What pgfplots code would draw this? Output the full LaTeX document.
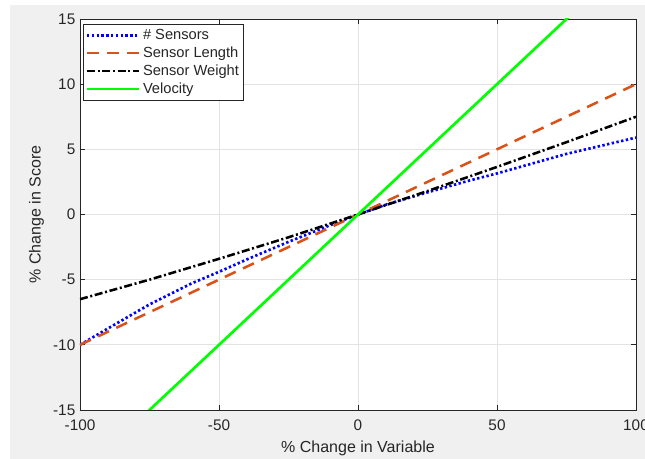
\documentclass[border=0pt]{standalone}
\usepackage{pgfplots}
\pgfplotsset{compat=1.18}
\usepackage{fontspec}
\setmainfont{Liberation Sans}
\definecolor{figbg}{HTML}{F0F0F0}
\definecolor{axgray}{HTML}{262626}
\definecolor{gridgray}{HTML}{E3E3E3}
\definecolor{morange}{HTML}{D95319}
\definecolor{mgreen}{HTML}{00FF00}
\definecolor{mblue}{HTML}{0000FF}
\begin{document}
\begin{tikzpicture}[x=0.75pt,y=0.75pt]
\useasboundingbox (-80,-49) rectangle (565,410);
\fill[white] (-80,-49) rectangle (565,410);
\fill[figbg] (-70,-49) rectangle (565,405);
\begin{axis}[
  at={(0,0)}, anchor=south west,
  scale only axis, width=417pt, height=293.25pt,
  xmin=-100, xmax=100, ymin=-15, ymax=15,
  xtick={-100,-50,0,50,100}, ytick={-15,-10,-5,0,5,10,15},
  /pgf/number format/assume math mode=true,
  axis background/.style={fill=white},
  axis line style={axgray, line width=0.5pt},
  tick style={axgray, line width=0.5pt},
  tick align=inside, major tick length=3.5pt,
  grid=major, grid style={gridgray, line width=0.5pt},
  ticklabel style={font=\fontsize{11.5}{13}\selectfont, text=axgray},
  xticklabel style={yshift=-3.5pt},
  label style={font=\fontsize{12}{14}\selectfont, text=axgray},
  xlabel={\% Change in Variable}, ylabel={\% Change in Score},
  xlabel style={yshift=-1pt},
  ylabel style={yshift=0pt},
  clip=true,
  legend cell align=left,
  legend style={at={(axis description cs:0.006,0.987)}, anchor=north west,
    draw=axgray, fill=white, line width=0.5pt,
    font=\fontsize{11}{13}\selectfont, inner sep=1.5pt, row sep=0pt,
    text=axgray},
  legend image code/.code={\draw[#1] (0pt,0pt) -- (39pt,0pt);},
]
\addplot[mblue, line width=2pt, dash pattern=on 1.8pt off 1.8pt] coordinates {
(-100,-10) (-90,-8.75) (-75,-6.9) (-60,-5.3) (-50,-4.4) (-40,-3.45) (-25,-2.1) (-10,-0.82) (0,0)
(10,0.75) (25,1.7) (40,2.6) (50,3.15) (60,3.75) (75,4.65) (90,5.4) (100,5.9)};
\addlegendentry{\# Sensors}
\addplot[morange, line width=1.9pt, dash pattern=on 9pt off 6pt] coordinates {
(-100,-10) (100,10)};
\addlegendentry{Sensor Length}
\addplot[black, line width=1.9pt, dash pattern=on 6pt off 2pt on 1.5pt off 2pt] coordinates {
(-100,-6.5) (-75,-5.0) (-50,-3.4) (-25,-1.75) (0,0) (25,1.8) (50,3.65) (75,5.55) (100,7.5)};
\addlegendentry{Sensor Weight}
\addplot[mgreen, line width=2pt] coordinates {
(-100,-20) (100,20)};
\addlegendentry{Velocity}
\end{axis}
\end{tikzpicture}
\end{document}
